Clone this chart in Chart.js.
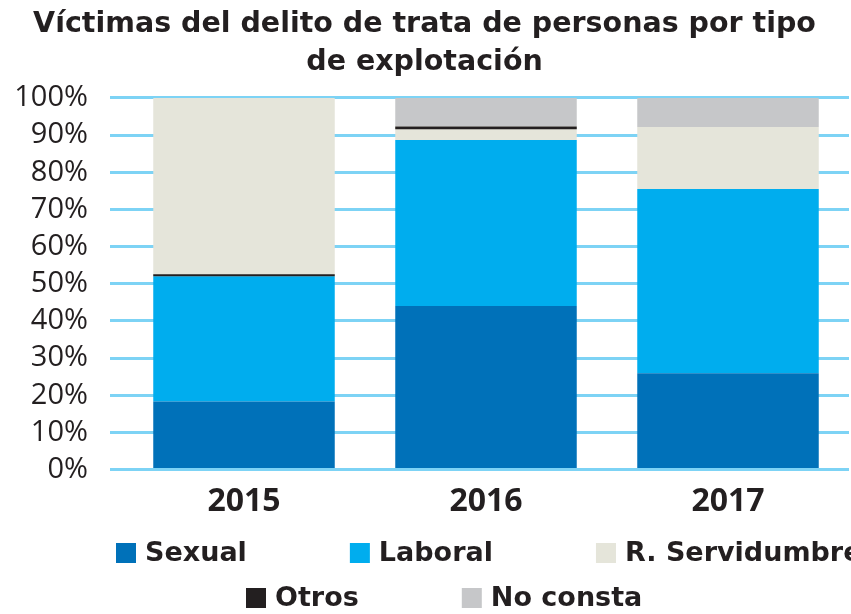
<!DOCTYPE html>
<html>
<head>
<meta charset="utf-8">
<script src="https://cdn.jsdelivr.net/npm/chart.js@4"></script>
<style>
  body { margin: 0; background: #fff; }
  #wrap { width: 851px; height: 614px; }
</style>
</head>
<body>
<div id="wrap"><canvas id="chart" width="851" height="614"></canvas></div>
<script>
'use strict';

// data (percent of victims per year)
const years = ['2015', '2016', '2017'];
const sexual = [18.3, 44.0, 25.9];
const laboral = [33.7, 44.7, 49.6];
const servidumbre = [48.0, 3.6, 16.7];
const noConsta = [0, 7.7, 7.8];
// "Otros" is a thin band, read as [from, to] per year
const otros = [[52.0, 52.6], [91.6, 92.3], null];

const seriesNames = ['Sexual', 'Laboral', 'R. Servidumbre', 'Otros', 'No consta'];
const seriesColors = ['#0071b9', '#00adee', '#e5e5da', '#231f20', '#c6c7c9'];
const yTicks = [0, 10, 20, 30, 40, 50, 60, 70, 80, 90, 100];

const FONT = "'DejaVu Sans', sans-serif";
const TEXT = '#231f20';

/**
 * legend drawn in two rows like the original
 */
const legendRows = [
  { items: ['Sexual', 'Laboral', 'R. Servidumbre'], x: 116, y: 553 },
  { items: ['Otros', 'No consta'], x: 246, y: 598 }
];

const rowLegend = {
  id: 'rowLegend',
  afterDraw(chart) {
    const ctx = chart.ctx;
    ctx.save();
    ctx.font = 'bold 27px ' + FONT;
    ctx.textBaseline = 'middle';
    legendRows.forEach(function (row) {
      let x = row.x;
      row.items.forEach(function (name) {
        const ds = chart.data.datasets.find(function (d) { return d.label === name; });
        ctx.fillStyle = ds.backgroundColor;
        ctx.fillRect(x, row.y - 10, 20, 20);
        ctx.fillStyle = TEXT;
        ctx.fillText(ds.label, x + 29, row.y + 1);
        x += 29 + ctx.measureText(ds.label).width + 103;
      });
    });
    ctx.restore();
  }
};

function makeSet(i, vals, extra) {
  return Object.assign({
    label: seriesNames[i],
    data: vals,
    backgroundColor: seriesColors[i],
    borderWidth: 0,
    barPercentage: 0.75,
    categoryPercentage: 1,
    stack: 'main'
  }, extra || {});
}

const ctx = document.getElementById('chart').getContext('2d');
const chart = new Chart(ctx, {
  type: 'bar',
  data: {
    labels: years,
    datasets: [
      makeSet(0, sexual),
      makeSet(1, laboral),
      makeSet(2, servidumbre),
      // thin band drawn over the main stack
      makeSet(3, otros, { stack: 'otros', grouped: false, order: -1 }),
      makeSet(4, noConsta)
    ]
  },
  options: {
    responsive: false,
    animation: false,
    layout: { padding: { left: 0, right: 2, top: 0, bottom: 88 } },
    plugins: {
      legend: { display: false },
      tooltip: { enabled: false },
      title: {
        display: true,
        text: ['Víctimas del delito de trata de personas por tipo', 'de explotación'],
        color: TEXT,
        font: { family: FONT, size: 28.5, weight: 'bold', lineHeight: 1.333 },
        padding: { top: 6, bottom: 16 }
      }
    },
    scales: {
      x: {
        stacked: true,
        grid: { display: false },
        border: { display: false },
        ticks: {
          color: TEXT,
          padding: 5,
          font: { family: "'Open Sans', sans-serif", size: 32, weight: 'bold' }
        }
      },
      y: {
        stacked: true,
        min: 0,
        max: 100,
        afterBuildTicks: function (axis) {
          axis.ticks = yTicks.map(function (v) { return { value: v }; });
        },
        afterFit: function (axis) { axis.width = 123; },
        grid: { color: '#7dd3f5', lineWidth: 3, tickLength: 13, tickColor: '#7dd3f5' },
        border: { display: false },
        ticks: {
          color: TEXT,
          padding: 22,
          autoSkip: false,
          font: { family: "'Open Sans', sans-serif", size: 29 },
          callback: function (v) { return v + '%'; }
        }
      }
    }
  },
  plugins: [rowLegend]
});
</script>
</body>
</html>
